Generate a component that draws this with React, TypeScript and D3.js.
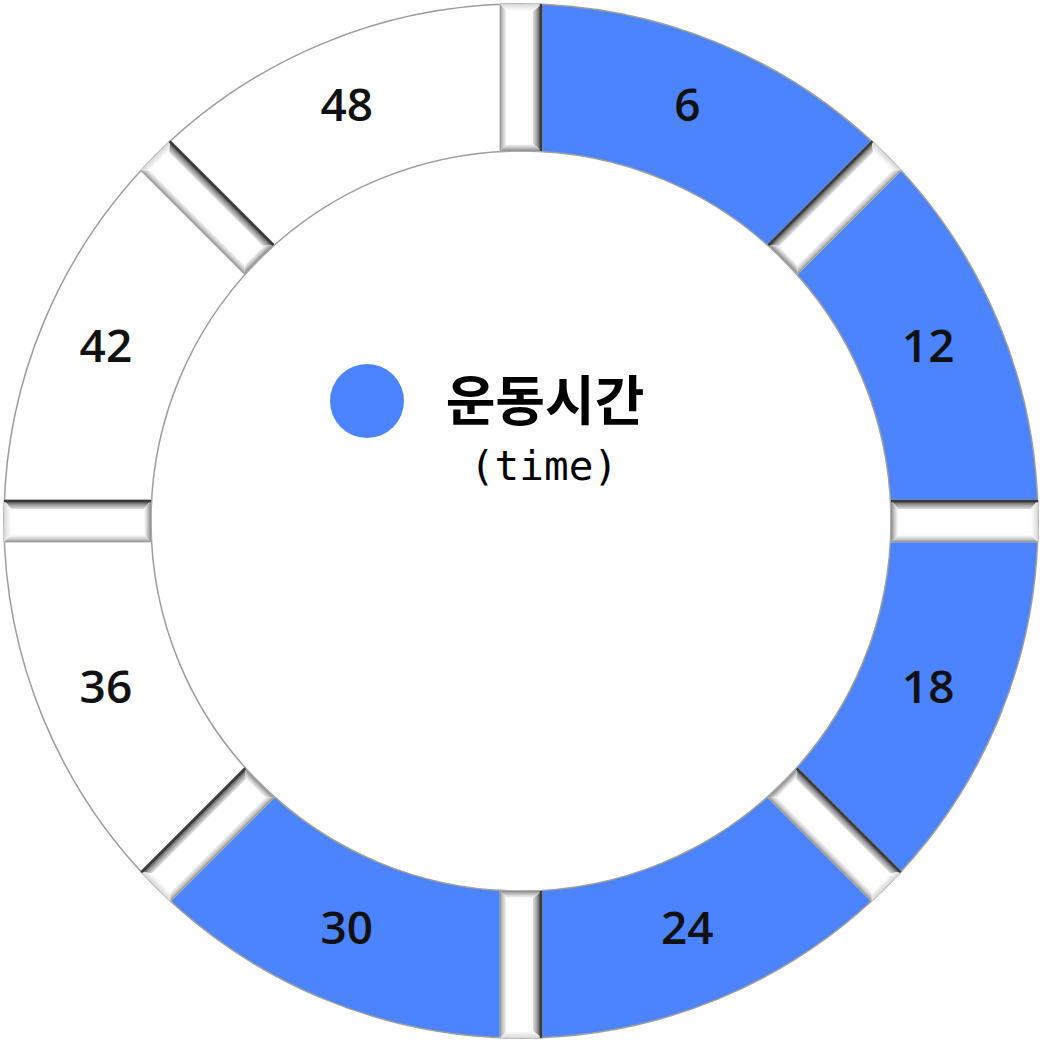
import * as d3 from 'd3';
import { useEffect, useRef } from 'react';

// ring slices (minutes), all equal size
const categories = ['6', '12', '18', '24', '30', '36', '42', '48'];
const sliceValues = [1, 1, 1, 1, 1, 1, 1, 1];
const filledSlices = [true, true, true, true, true, false, false, false];
const legendTitle = '운동시간';
const legendSub = '(time)';

export default function App() {
  const ref = useRef<SVGSVGElement>(null);

  useEffect(() => {
    const svg = d3.select(ref.current);
    svg.selectAll('*').remove();

    const width = 1043;
    const height = 1042;
    const cx = 521;
    const cy = 521;
    const outerR = 517;
    const innerR = 370;
    const gapW = 42;
    const bevel = 7;
    const blue = '#4c84ff';

    const defs = svg.append('defs');
    const grad = (id, x1, y1, x2, y2, stops) => {
      const g = defs
        .append('linearGradient')
        .attr('id', id)
        .attr('gradientUnits', 'userSpaceOnUse')
        .attr('x1', x1)
        .attr('y1', y1)
        .attr('x2', x2)
        .attr('y2', y2);
      stops.forEach(([o, c]) => g.append('stop').attr('offset', o).attr('stop-color', c));
    };
    const hw = gapW / 2;
    grad('bv-left', -hw, 0, -hw + bevel, 0, [[0, '#8f8f8f'], [0.35, '#c4c4c4'], [1, '#ffffff']]);
    grad('bv-right', hw - 2, 0, hw - 2 - bevel - 2, 0, [[0, '#5a5a5a'], [0.4, '#a8a8a8'], [1, '#ffffff']]);
    grad('bv-inner', 0, -innerR, 0, -innerR - bevel, [[0, '#8a8a8a'], [0.5, '#c8c8c8'], [1, '#ffffff']]);
    grad('bv-outer', 0, -outerR, 0, -outerR + bevel, [[0, '#d8d8d8'], [1, '#ffffff']]);

    const pie = d3
      .pie<number>()
      .sort(null)
      .startAngle(0)
      .endAngle(2 * Math.PI);
    const arcs = pie(sliceValues);

    const arc = d3.arc().innerRadius(innerR).outerRadius(outerR);
    const root = svg.append('g').attr('transform', `translate(${cx},${cy})`);

    root
      .selectAll('.slice')
      .data(arcs)
      .join('path')
      .attr('class', 'slice')
      .attr('d', (d) => arc(d))
      .attr('fill', (d, i) => (filledSlices[i] ? blue : '#ffffff'))
      .attr('stroke', '#9d9d9d')
      .attr('stroke-width', 1.5);

    // bevelled gaps between slices
    const gaps = root
      .selectAll('.gap')
      .data(arcs)
      .join('g')
      .attr('class', 'gap')
      .attr('transform', (d) => {
        const a = d.startAngle;
        const s = Math.sin(a);
        const c = Math.cos(a);
        const darkFollowing = s < -1e-6 || (Math.abs(s) < 1e-6 && c > 0);
        return `rotate(${(a * 180) / Math.PI}) scale(${darkFollowing ? 1 : -1},1)`;
      });

    gaps
      .append('rect')
      .attr('x', -hw)
      .attr('y', -outerR)
      .attr('width', gapW)
      .attr('height', outerR - innerR)
      .attr('fill', '#ffffff')
      .attr('stroke', '#b5b5b5')
      .attr('stroke-width', 1);

    const pts = (arr) => arr.map((p) => p.join(',')).join(' ');
    gaps
      .append('polygon')
      .attr('points', pts([[-hw, -outerR], [-hw + bevel, -outerR + bevel], [-hw + bevel, -innerR - bevel], [-hw, -innerR]]))
      .attr('fill', 'url(#bv-left)');
    gaps
      .append('polygon')
      .attr('points', pts([[hw, -outerR], [hw - bevel - 2, -outerR + bevel], [hw - bevel - 2, -innerR - bevel], [hw, -innerR]]))
      .attr('fill', 'url(#bv-right)');
    gaps
      .append('polygon')
      .attr('points', pts([[-hw, -innerR], [hw, -innerR], [hw - bevel - 2, -innerR - bevel], [-hw + bevel, -innerR - bevel]]))
      .attr('fill', 'url(#bv-inner)');
    gaps
      .append('polygon')
      .attr('points', pts([[-hw, -outerR], [hw, -outerR], [hw - bevel - 2, -outerR + bevel], [-hw + bevel, -outerR + bevel]]))
      .attr('fill', 'url(#bv-outer)');
    gaps
      .append('line')
      .attr('x1', hw - 1)
      .attr('x2', hw - 1)
      .attr('y1', -outerR)
      .attr('y2', -innerR)
      .attr('stroke', '#3a3a3a')
      .attr('stroke-width', 2.5);

    // slice labels
    const labelArc = d3.arc().innerRadius(445).outerRadius(445);
    root
      .selectAll('.label')
      .data(arcs)
      .join('text')
      .attr('class', 'label')
      .attr('transform', (d) => {
        const [x, y] = labelArc.centroid(d);
        return `translate(${x - 4},${y - 5})`;
      })
      .attr('text-anchor', 'middle')
      .attr('dy', '0.36em')
      .style('font-family', "'Comic Sans MS', 'Open Sans', sans-serif")
      .style('font-size', '46px')
      .style('font-weight', 600)
      .attr('fill', '#111')
      .text((d, i) => categories[i]);

    // legend in the hole
    svg.append('circle').attr('cx', 367).attr('cy', 401).attr('r', 37).attr('fill', blue);
    svg
      .append('text')
      .attr('x', 545)
      .attr('y', 421)
      .attr('text-anchor', 'middle')
      .style('font-family', "'Noto Sans CJK KR', sans-serif")
      .style('font-size', '54px')
      .style('font-weight', 700)
      .attr('fill', '#000')
      .text(legendTitle);
    svg
      .append('text')
      .attr('x', 544)
      .attr('y', 480)
      .attr('text-anchor', 'middle')
      .style('font-family', "'DejaVu Sans Mono', monospace")
      .style('font-size', '41px')
      .attr('fill', '#000')
      .text(legendSub);

    svg.attr('width', width).attr('height', height);
  }, []);

  return (
    <svg
      ref={ref}
      width={1043}
      height={1042}
      style={{ position: 'absolute', left: 0, top: 0, background: '#fff' }}
    />
  );
}
